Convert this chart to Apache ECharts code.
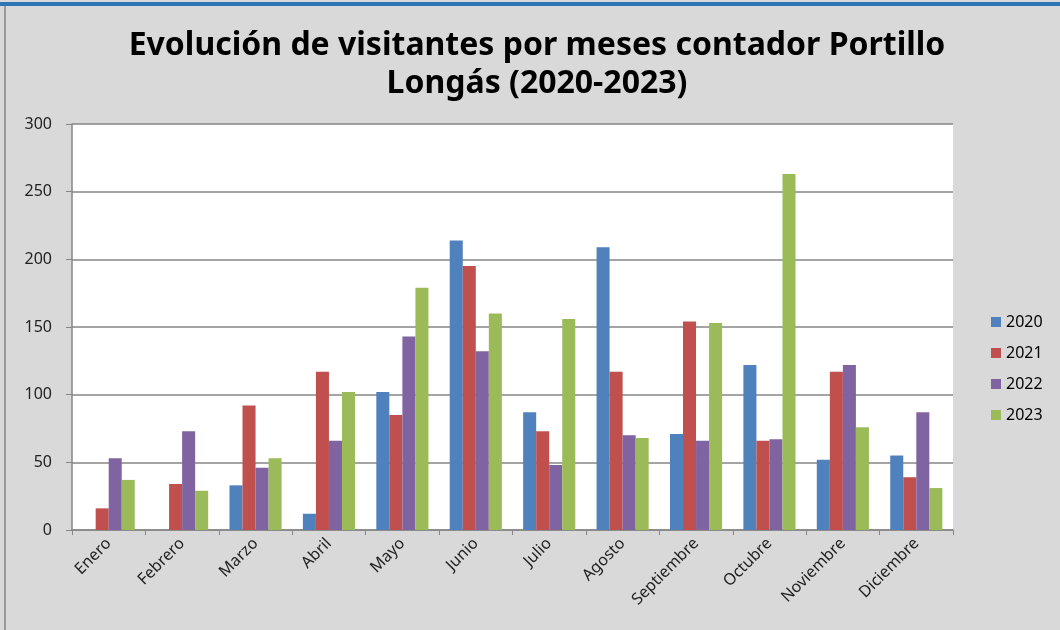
<!DOCTYPE html>
<html>
<head>
<meta charset="utf-8">
<script src="https://cdn.jsdelivr.net/npm/echarts@6/dist/echarts.min.js"></script>
<style>
  html, body { margin: 0; padding: 0; background: #d9d9d9; }
  #chart { width: 1060px; height: 630px; }
</style>
</head>
<body>
<div id="chart"></div>
<script>
// meses
const months = ['Enero', 'Febrero', 'Marzo', 'Abril', 'Mayo', 'Junio', 'Julio', 'Agosto', 'Septiembre', 'Octubre', 'Noviembre', 'Diciembre']
// visitantes por año
const v2020 = [null, null, 33, 12, 102, 214, 87, 209, 71, 122, 52, 55]
const v2021 = [16, 34, 92, 117, 85, 195, 73, 117, 154, 66, 117, 39]
const v2022 = [53, 73, 46, 66, 143, 132, 48, 70, 66, 67, 122, 87]
const v2023 = [37, 29, 53, 102, 179, 160, 156, 68, 153, 263, 76, 31]
const years = ['2020', '2021', '2022', '2023']
const colors = ['#4f81bd', '#c0504d', '#8064a2', '#9bbb59']

const chart = echarts.init(document.getElementById('chart'))

const font = 'Noto Sans'
const option = {
  backgroundColor: '#d9d9d9',
  color: colors,
  animation: false,
  title: {
    text: 'Evolución de visitantes por meses contador Portillo\nLongás (2020-2023)',
    left: 532,
    textAlign: 'center',
    top: 22,
    textStyle: {
      fontFamily: font,
      fontSize: 32,
      fontWeight: 'bold',
      color: '#000',
      lineHeight: 38
    }
  },
  graphic: [
    // marco superior azul y borde izquierdo
    { type: 'rect', left: 0, top: 2, shape: { width: 1060, height: 4 }, style: { fill: '#2e75b6' } },
    { type: 'rect', left: 4, top: 6, shape: { width: 2, height: 624 }, style: { fill: '#9a9a9a' } }
  ],
  legend: {
    orient: 'vertical',
    left: 986,
    top: 309,
    itemWidth: 10,
    itemHeight: 10,
    itemGap: 15,
    icon: 'rect',
    data: years,
    textStyle: { fontFamily: font, fontSize: 16, color: '#000' }
  },
  grid: {
    left: 72,
    right: 107,
    top: 124,
    bottom: 100,
    show: true,
    backgroundColor: '#ffffff',
    borderWidth: 0
  },
  xAxis: {
    type: 'category',
    data: months,
    axisLine: { lineStyle: { color: '#868686', width: 1.5 } },
    axisTick: { show: true, length: 5, lineStyle: { color: '#868686' } },
    axisLabel: {
      rotate: 45,
      interval: 0,
      margin: 11,
      fontFamily: font,
      fontSize: 16,
      color: '#222'
    }
  },
  yAxis: {
    type: 'value',
    min: 0,
    max: 300,
    interval: 50,
    axisLine: { show: true, lineStyle: { color: '#868686', width: 1.5 } },
    axisTick: { show: true, length: 6, lineStyle: { color: '#868686' } },
    splitLine: { lineStyle: { color: '#868686', width: 1.5 } },
    axisLabel: { fontFamily: font, fontSize: 16, color: '#222', margin: 20 }
  },
  series: [
    { name: '2020', type: 'bar', data: v2020, barGap: '0%', barCategoryGap: '29%' },
    { name: '2021', type: 'bar', data: v2021, barGap: '0%', barCategoryGap: '29%' },
    { name: '2022', type: 'bar', data: v2022, barGap: '0%', barCategoryGap: '29%' },
    { name: '2023', type: 'bar', data: v2023, barGap: '0%', barCategoryGap: '29%' }
  ]
}

chart.setOption(option)
</script>
</body>
</html>
